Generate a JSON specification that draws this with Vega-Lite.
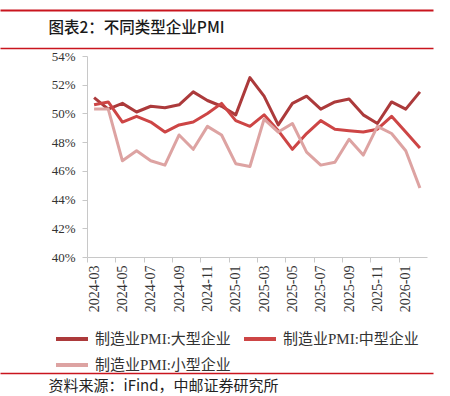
{
  "$schema": "https://vega.github.io/schema/vega-lite/v6.json",
  "padding": {"left": 0, "top": 10, "right": 0, "bottom": 0},
  "background": "white",
  "spacing": -4,
  "resolve": {"scale": {"color": "independent", "x": "independent"}, "legend": {"color": "independent"}},
  "config": {
    "view": {"stroke": null},
    "font": "Liberation Serif"
  },
  "vconcat": [
    {
      "spacing": 0,
      "resolve": {"scale": {"x": "independent"}},
      "vconcat": [
        {
          "width": 340,
          "height": 32,
          "data": {"values": [{"pos": 0}]},
          "mark": {"type": "text", "text": ""},
          "encoding": {
            "x": {
              "field": "pos",
              "type": "quantitative",
              "scale": {"domain": [0, 1], "range": [-87, 346]},
              "axis": {
                "orient": "top",
                "domain": true,
                "domainColor": "#C9151E",
                "domainWidth": 1.8,
                "ticks": false,
                "labels": false,
                "grid": false,
                "title": "图表2：不同类型企业PMI",
                "titleX": -39,
                "titleY": 17,
                "titleAlign": "left",
                "titleAnchor": "start",
                "titleBaseline": "middle",
                "titleAngle": 0,
                "titleFont": "Noto Sans CJK SC",
                "titleFontSize": 15.5,
                "titleFontWeight": 500,
                "titleColor": "#1a1a1a"
              }
            }
          }
        },
        {
          "width": 340,
          "height": 1,
          "data": {"values": [{"pos": 0}]},
          "mark": {"type": "text", "text": ""},
          "encoding": {
            "x": {
              "field": "pos",
              "type": "quantitative",
              "scale": {"domain": [0, 1], "range": [-87, 346]},
              "axis": {
                "orient": "top",
                "domain": true,
                "domainColor": "#C9151E",
                "domainWidth": 1.3,
                "ticks": false,
                "labels": false,
                "grid": false,
                "title": null
              }
            }
          }
        }
      ]
    },
    {
      "spacing": 0,
      "resolve": {"scale": {"color": "independent", "x": "independent"}, "legend": {"color": "independent"}},
      "vconcat": [
        {
          "width": 340,
          "height": 201,
          "data": {
            "values": [
              {"month": "2024-03", "制造业PMI:大型企业": 51.1, "制造业PMI:中型企业": 50.6, "制造业PMI:小型企业": 50.3},
              {"month": "2024-04", "制造业PMI:大型企业": 50.3, "制造业PMI:中型企业": 50.8, "制造业PMI:小型企业": 50.3},
              {"month": "2024-05", "制造业PMI:大型企业": 50.7, "制造业PMI:中型企业": 49.4, "制造业PMI:小型企业": 46.7},
              {"month": "2024-06", "制造业PMI:大型企业": 50.1, "制造业PMI:中型企业": 49.8, "制造业PMI:小型企业": 47.4},
              {"month": "2024-07", "制造业PMI:大型企业": 50.5, "制造业PMI:中型企业": 49.4, "制造业PMI:小型企业": 46.7},
              {"month": "2024-08", "制造业PMI:大型企业": 50.4, "制造业PMI:中型企业": 48.7, "制造业PMI:小型企业": 46.4},
              {"month": "2024-09", "制造业PMI:大型企业": 50.6, "制造业PMI:中型企业": 49.2, "制造业PMI:小型企业": 48.5},
              {"month": "2024-10", "制造业PMI:大型企业": 51.5, "制造业PMI:中型企业": 49.4, "制造业PMI:小型企业": 47.5},
              {"month": "2024-11", "制造业PMI:大型企业": 50.9, "制造业PMI:中型企业": 50.0, "制造业PMI:小型企业": 49.1},
              {"month": "2024-12", "制造业PMI:大型企业": 50.5, "制造业PMI:中型企业": 50.7, "制造业PMI:小型企业": 48.5},
              {"month": "2025-01", "制造业PMI:大型企业": 49.9, "制造业PMI:中型企业": 49.5, "制造业PMI:小型企业": 46.5},
              {"month": "2025-02", "制造业PMI:大型企业": 52.5, "制造业PMI:中型企业": 49.1, "制造业PMI:小型企业": 46.3},
              {"month": "2025-03", "制造业PMI:大型企业": 51.2, "制造业PMI:中型企业": 49.9, "制造业PMI:小型企业": 49.6},
              {"month": "2025-04", "制造业PMI:大型企业": 49.2, "制造业PMI:中型企业": 48.8, "制造业PMI:小型企业": 48.7},
              {"month": "2025-05", "制造业PMI:大型企业": 50.7, "制造业PMI:中型企业": 47.5, "制造业PMI:小型企业": 49.3},
              {"month": "2025-06", "制造业PMI:大型企业": 51.2, "制造业PMI:中型企业": 48.6, "制造业PMI:小型企业": 47.3},
              {"month": "2025-07", "制造业PMI:大型企业": 50.3, "制造业PMI:中型企业": 49.5, "制造业PMI:小型企业": 46.4},
              {"month": "2025-08", "制造业PMI:大型企业": 50.8, "制造业PMI:中型企业": 48.9, "制造业PMI:小型企业": 46.6},
              {"month": "2025-09", "制造业PMI:大型企业": 51.0, "制造业PMI:中型企业": 48.8, "制造业PMI:小型企业": 48.2},
              {"month": "2025-10", "制造业PMI:大型企业": 49.9, "制造业PMI:中型企业": 48.7, "制造业PMI:小型企业": 47.1},
              {"month": "2025-11", "制造业PMI:大型企业": 49.3, "制造业PMI:中型企业": 48.9, "制造业PMI:小型企业": 49.1},
              {"month": "2025-12", "制造业PMI:大型企业": 50.8, "制造业PMI:中型企业": 49.8, "制造业PMI:小型企业": 48.6},
              {"month": "2026-01", "制造业PMI:大型企业": 50.3, "制造业PMI:中型企业": 48.7, "制造业PMI:小型企业": 47.4},
              {"month": "2026-02", "制造业PMI:大型企业": 51.5, "制造业PMI:中型企业": 47.6, "制造业PMI:小型企业": 44.8}
            ]
          },
          "transform": [
            {"fold": ["制造业PMI:大型企业", "制造业PMI:中型企业", "制造业PMI:小型企业"], "as": ["series", "value"]}
          ],
          "mark": {"type": "line", "strokeWidth": 3, "strokeJoin": "round"},
          "encoding": {
            "x": {
              "field": "month",
              "type": "ordinal",
              "scale": {"type": "point", "padding": 0.5},
              "axis": {
                "title": null,
                "values": ["2024-03", "2024-05", "2024-07", "2024-09", "2024-11", "2025-01", "2025-03", "2025-05", "2025-07", "2025-09", "2025-11", "2026-01"],
                "labelAngle": 270,
                "labelFont": "Liberation Serif",
                "labelFontSize": 14,
                "labelColor": "#333333",
                "labelPadding": 3,
                "tickOffset": -7.083,
                "labelOffset": 7.083,
                "tickSize": 5,
                "tickColor": "#C8C8C8",
                "domainColor": "#C8C8C8",
                "grid": false
              }
            },
            "y": {
              "field": "value",
              "type": "quantitative",
              "scale": {"domain": [40, 54], "zero": false, "nice": false},
              "axis": {
                "title": null,
                "values": [40, 42, 44, 46, 48, 50, 52, 54],
                "labelExpr": "datum.value + '%'",
                "labelFont": "Liberation Serif",
                "labelFontSize": 13,
                "labelColor": "#333333",
                "labelPadding": 7,
                "tickSize": 5,
                "tickColor": "#C8C8C8",
                "domainColor": "#C8C8C8",
                "grid": false,
                "minExtent": 87
              }
            },
            "color": {
              "field": "series",
              "type": "nominal",
              "sort": ["制造业PMI:大型企业", "制造业PMI:中型企业", "制造业PMI:小型企业"],
              "scale": {
                "domain": ["制造业PMI:大型企业", "制造业PMI:中型企业", "制造业PMI:小型企业"],
                "range": ["#AC3A3B", "#CD4545", "#DDA3A2"]
              },
              "legend": {
                "title": null,
                "orient": "none",
                "legendX": -33,
                "legendY": 265,
                "direction": "horizontal",
                "columns": 2,
                "columnPadding": 5,
                "rowPadding": -12,
                "symbolType": "stroke",
                "symbolSize": 1024,
                "symbolStrokeWidth": 4,
                "labelOffset": 5,
                "labelFont": "Liberation Serif, Noto Sans CJK SC",
                "labelFontSize": 15,
                "labelColor": "#333333",
                "labelLimit": 300
              }
            }
          }
        },
        {
          "width": 340,
          "height": 24,
          "data": {"values": [{"pos": 0}]},
          "mark": {"type": "text", "text": ""},
          "encoding": {
            "x": {
              "field": "pos",
              "type": "quantitative",
              "scale": {"domain": [0, 1], "range": [-87, 346]},
              "axis": {
                "orient": "top",
                "domain": true,
                "domainColor": "#C9151E",
                "domainWidth": 1.5,
                "ticks": false,
                "labels": false,
                "grid": false,
                "title": "资料来源：iFind，中邮证券研究所",
                "titleX": -39,
                "titleY": 12,
                "titleAlign": "left",
                "titleAnchor": "start",
                "titleBaseline": "middle",
                "titleAngle": 0,
                "titleFont": "Noto Sans CJK SC",
                "titleFontSize": 15,
                "titleFontWeight": "normal",
                "titleColor": "#222222"
              }
            }
          }
        }
      ]
    }
  ]
}
